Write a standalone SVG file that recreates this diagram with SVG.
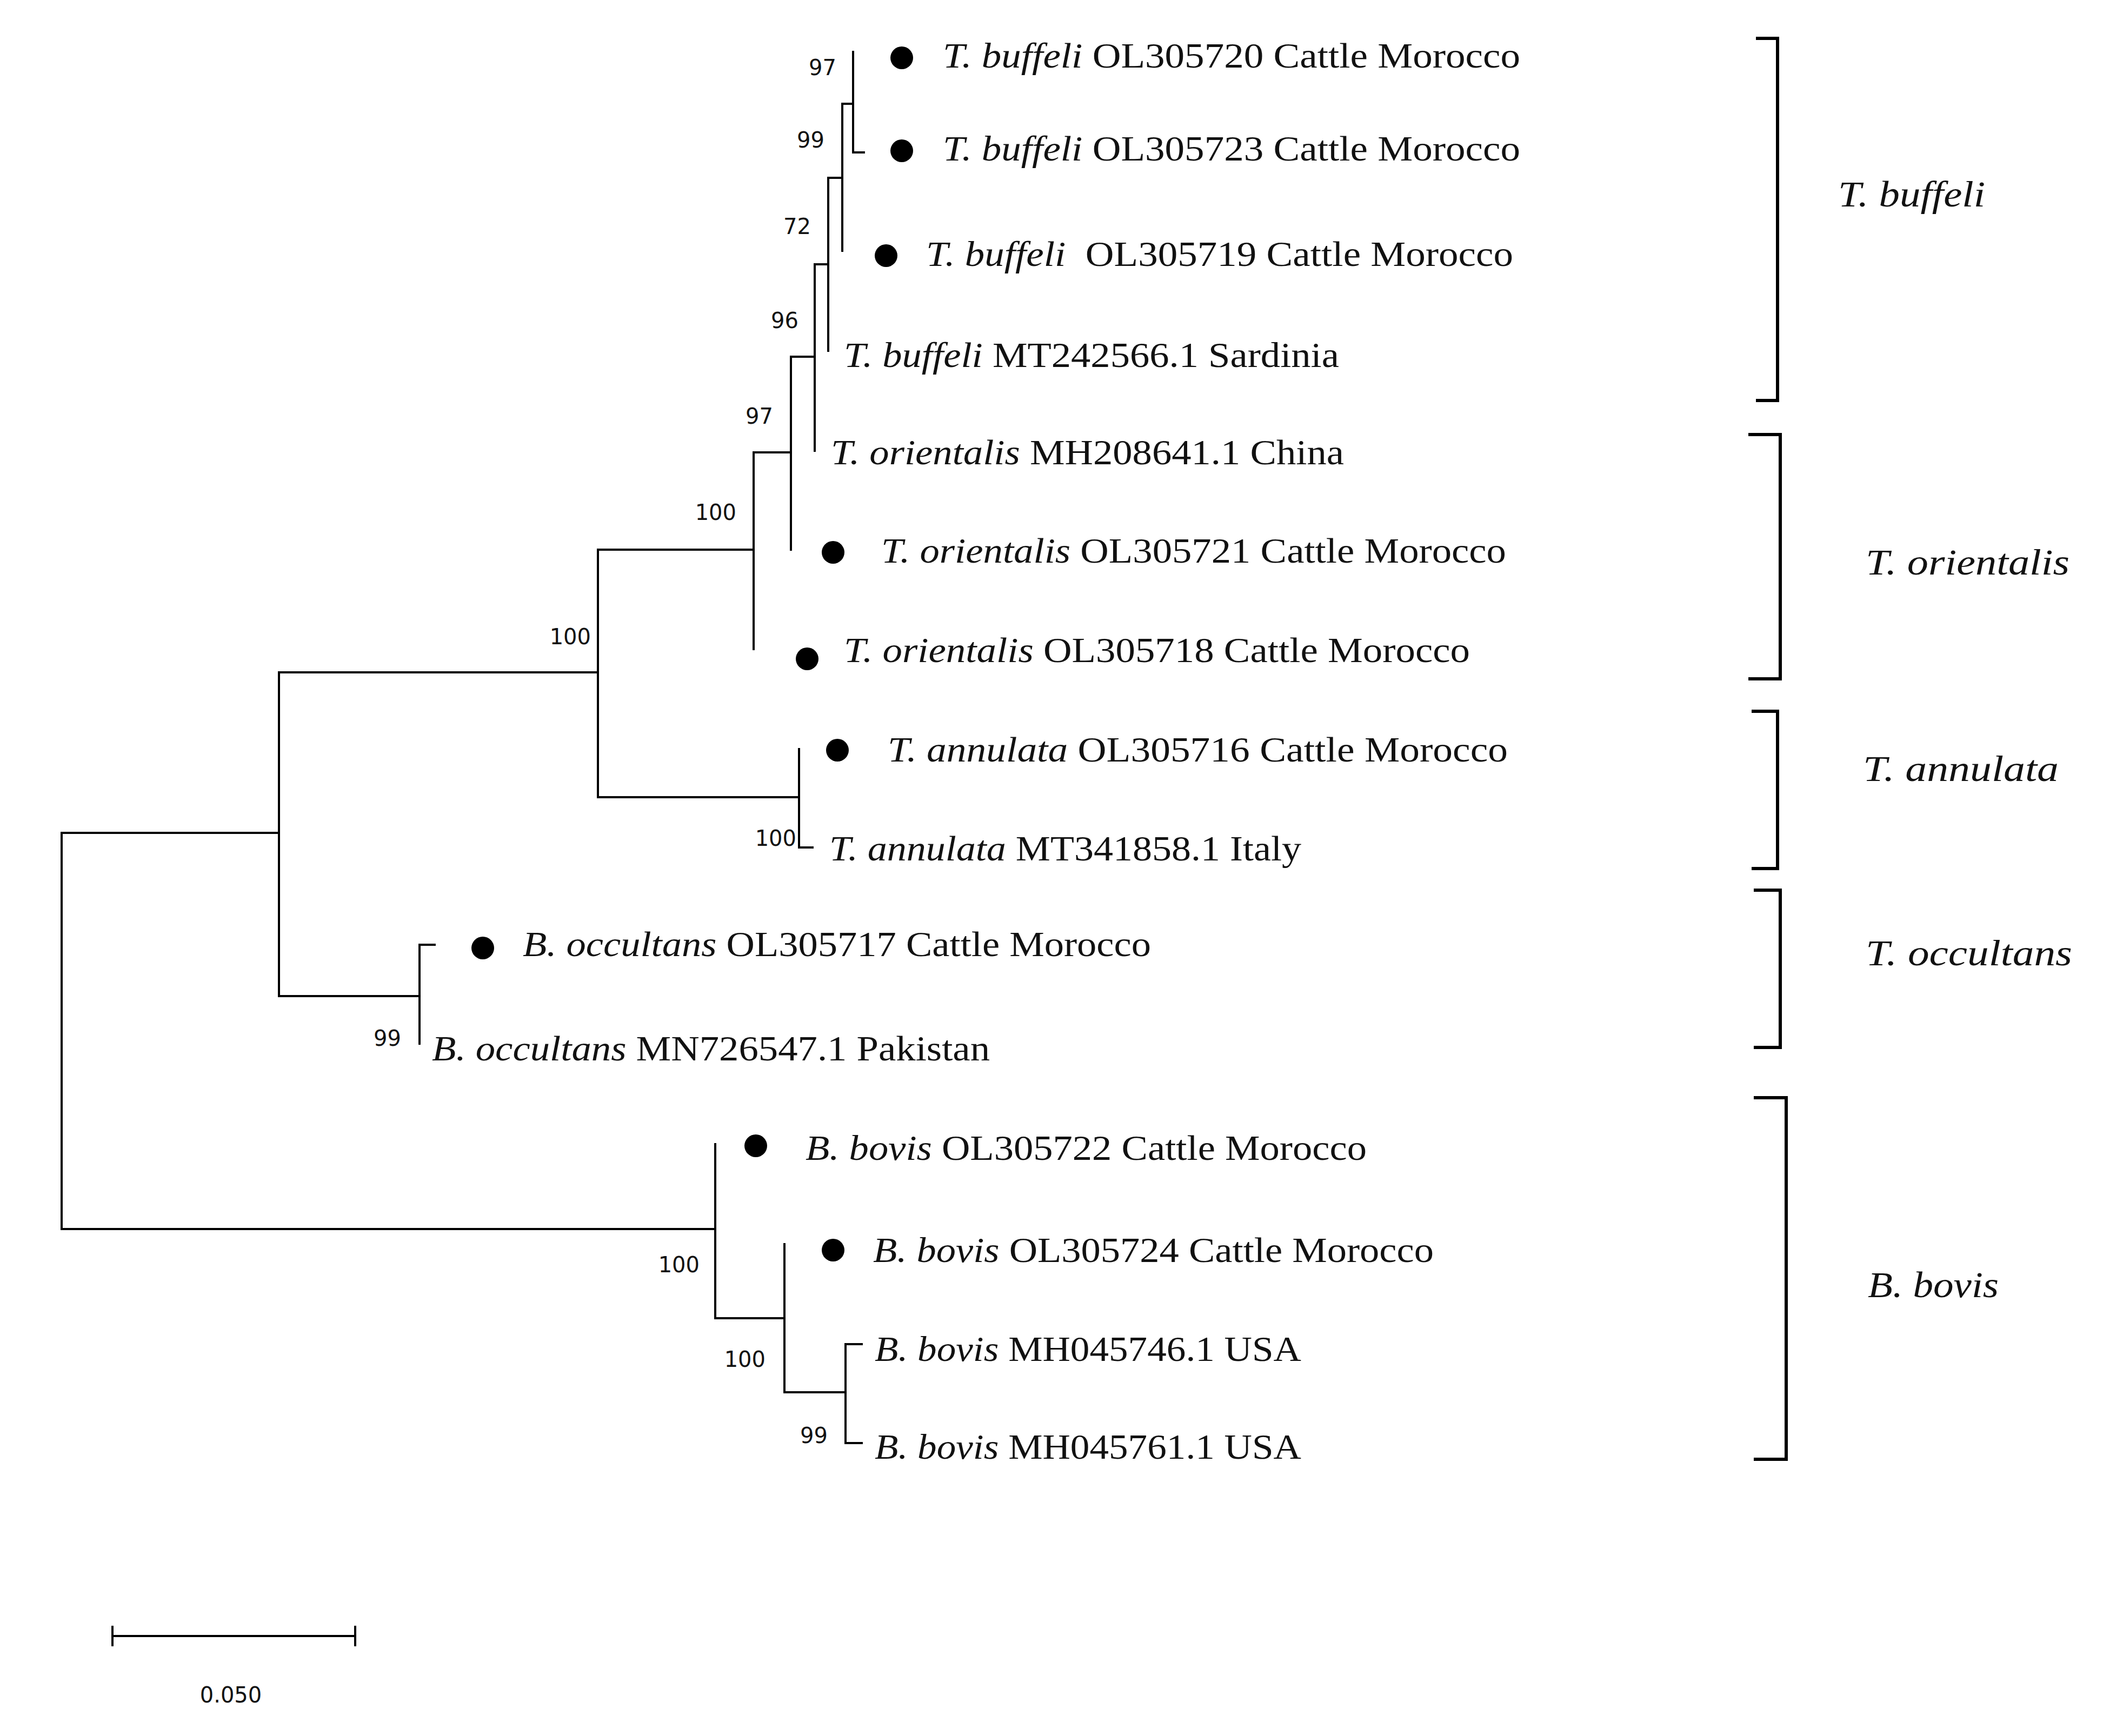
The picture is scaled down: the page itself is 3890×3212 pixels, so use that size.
<svg xmlns="http://www.w3.org/2000/svg" width="3890" height="3212" viewBox="0 0 3890 3212">
<style>
.br{fill:none;stroke:#000;stroke-width:4;stroke-linecap:square}
.bk{fill:none;stroke:#000;stroke-width:6}
.lf{font-family:"Liberation Serif","Times New Roman",serif;font-size:66px;fill:#111}
.it{font-style:italic}
.bs{font-family:"DejaVu Sans",Verdana,sans-serif;font-size:40px;fill:#111;text-anchor:end}
.cl{font-family:"Liberation Serif","Times New Roman",serif;font-size:68px;font-style:italic;fill:#111}
.dot{fill:#000}
</style>
<rect width="3890" height="3212" fill="#fff"/>
<g id="connectors">
<path class="br" d="M114 1541V2274M114 1541H516M516 1244V1843M516 1244H1106M1106 1017V1475M1106 1017H1394M1394 837V1201M1394 837H1463M1463 660V1017M1463 660H1507M1507 489V834M1507 489H1532M1532 329V649M1532 329H1558M1558 192V464M1558 192H1578M1578 96V282H1598"/>
<path class="br" d="M1106 1475H1478M1478 1386V1568H1503"/>
<path class="br" d="M516 1843H776M804 1748H776V1931"/>
<path class="br" d="M114 2274H1323M1323 2117V2439H1451M1451 2302V2576H1564M1594 2487H1564V2670H1594"/>
</g>
<g id="bootstrap">
<text class="bs" x="1547" y="139">97</text>
<text class="bs" x="1525" y="273">99</text>
<text class="bs" x="1500" y="433">72</text>
<text class="bs" x="1477" y="607">96</text>
<text class="bs" x="1430" y="784">97</text>
<text class="bs" x="1362" y="962">100</text>
<text class="bs" x="1093" y="1192">100</text>
<text class="bs" x="1473" y="1565">100</text>
<text class="bs" x="742" y="1935">99</text>
<text class="bs" x="1294" y="2354">100</text>
<text class="bs" x="1416" y="2529">100</text>
<text class="bs" x="1531" y="2670">99</text>
</g>
<g id="leaf1"><circle class="dot" cx="1668" cy="107" r="21"/><text class="lf" x="1744" y="125" textLength="1068" lengthAdjust="spacingAndGlyphs"><tspan class="it">T. buffeli</tspan> OL305720 Cattle Morocco</text></g>
<g id="leaf2"><circle class="dot" cx="1668" cy="279" r="21"/><text class="lf" x="1744" y="297" textLength="1068" lengthAdjust="spacingAndGlyphs"><tspan class="it">T. buffeli</tspan> OL305723 Cattle Morocco</text></g>
<g id="leaf3"><circle class="dot" cx="1639" cy="473" r="21"/><text class="lf" x="1713" y="492" textLength="1086" lengthAdjust="spacingAndGlyphs" xml:space="preserve"><tspan class="it">T. buffeli</tspan>  OL305719 Cattle Morocco</text></g>
<g id="leaf4"><text class="lf" x="1561" y="679" textLength="916" lengthAdjust="spacingAndGlyphs"><tspan class="it">T. buffeli</tspan> MT242566.1 Sardinia</text></g>
<g id="leaf5"><text class="lf" x="1537" y="859" textLength="949" lengthAdjust="spacingAndGlyphs"><tspan class="it">T. orientalis</tspan> MH208641.1 China</text></g>
<g id="leaf6"><circle class="dot" cx="1541" cy="1022" r="21"/><text class="lf" x="1630" y="1041" textLength="1156" lengthAdjust="spacingAndGlyphs"><tspan class="it">T. orientalis</tspan> OL305721 Cattle Morocco</text></g>
<g id="leaf7"><circle class="dot" cx="1493" cy="1219" r="21"/><text class="lf" x="1561" y="1225" textLength="1158" lengthAdjust="spacingAndGlyphs"><tspan class="it">T. orientalis</tspan> OL305718 Cattle Morocco</text></g>
<g id="leaf8"><circle class="dot" cx="1549" cy="1388" r="21"/><text class="lf" x="1642" y="1409" textLength="1147" lengthAdjust="spacingAndGlyphs"><tspan class="it">T. annulata</tspan> OL305716 Cattle Morocco</text></g>
<g id="leaf9"><text class="lf" x="1534" y="1592" textLength="873" lengthAdjust="spacingAndGlyphs"><tspan class="it">T. annulata</tspan> MT341858.1 Italy</text></g>
<g id="leaf10"><circle class="dot" cx="893" cy="1754" r="21"/><text class="lf" x="967" y="1769" textLength="1162" lengthAdjust="spacingAndGlyphs"><tspan class="it">B. occultans</tspan> OL305717 Cattle Morocco</text></g>
<g id="leaf11"><text class="lf" x="799" y="1962" textLength="1032" lengthAdjust="spacingAndGlyphs"><tspan class="it">B. occultans</tspan> MN726547.1 Pakistan</text></g>
<g id="leaf12"><circle class="dot" cx="1398" cy="2120" r="21"/><text class="lf" x="1490" y="2146" textLength="1038" lengthAdjust="spacingAndGlyphs"><tspan class="it">B. bovis</tspan> OL305722 Cattle Morocco</text></g>
<g id="leaf13"><circle class="dot" cx="1541" cy="2313" r="21"/><text class="lf" x="1615" y="2335" textLength="1037" lengthAdjust="spacingAndGlyphs"><tspan class="it">B. bovis</tspan> OL305724 Cattle Morocco</text></g>
<g id="leaf14"><text class="lf" x="1618" y="2518" textLength="789" lengthAdjust="spacingAndGlyphs"><tspan class="it">B. bovis</tspan> MH045746.1 USA</text></g>
<g id="leaf15"><text class="lf" x="1618" y="2699" textLength="789" lengthAdjust="spacingAndGlyphs"><tspan class="it">B. bovis</tspan> MH045761.1 USA</text></g>
<g id="clade-buffeli"><path class="bk" d="M3248 71H3288V741H3248"/><text class="cl" x="3400" y="382" textLength="272" lengthAdjust="spacingAndGlyphs">T. buffeli</text></g>
<g id="clade-orientalis"><path class="bk" d="M3234 804H3293V1256H3234"/><text class="cl" x="3451" y="1063" textLength="377" lengthAdjust="spacingAndGlyphs">T. orientalis</text></g>
<g id="clade-annulata"><path class="bk" d="M3240 1316H3288V1607H3240"/><text class="cl" x="3446" y="1445" textLength="362" lengthAdjust="spacingAndGlyphs">T. annulata</text></g>
<g id="clade-occultans"><path class="bk" d="M3244 1647H3293V1938H3244"/><text class="cl" x="3451" y="1786" textLength="382" lengthAdjust="spacingAndGlyphs">T. occultans</text></g>
<g id="clade-bovis"><path class="bk" d="M3244 2031H3304V2700H3244"/><text class="cl" x="3455" y="2400" textLength="242" lengthAdjust="spacingAndGlyphs">B. bovis</text></g>
<g id="scale"><path class="br" d="M208 3027H657M208 3010V3044M657 3010V3044"/><text class="bs" x="427" y="3150" style="text-anchor:middle">0.050</text></g>
</svg>
